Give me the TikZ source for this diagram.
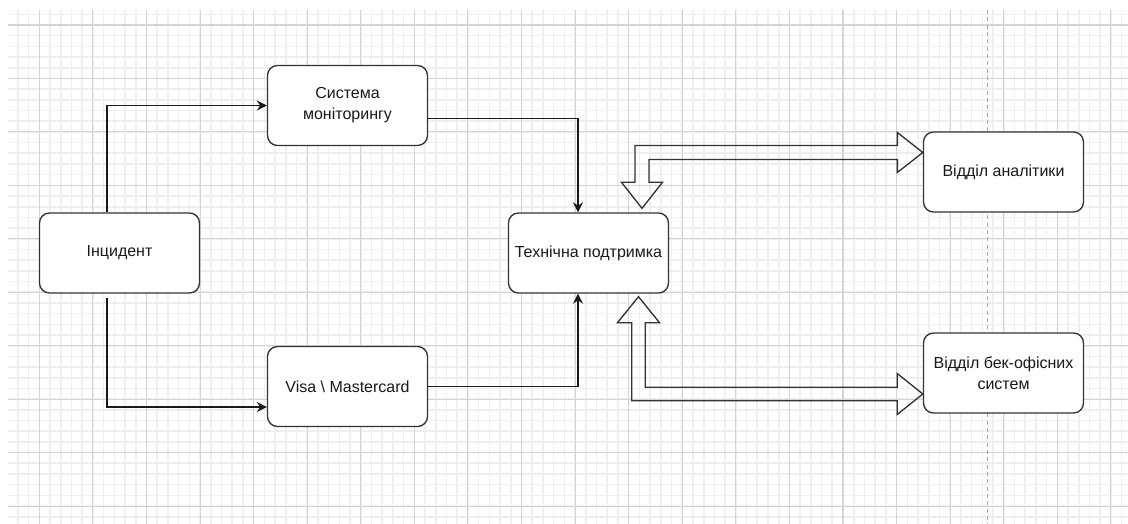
\documentclass[tikz,border=0pt]{standalone}
\usepackage{fontspec}
\setmainfont{Liberation Sans}
\usetikzlibrary{arrows.meta,calc}
\definecolor{gridmajor}{HTML}{D4D4D4}
\definecolor{gridminor}{HTML}{EFEFEF}
\definecolor{edgegray}{HTML}{333333}
\definecolor{textdark}{HTML}{1A1A1A}
\tikzset{
  box/.style={draw=edgegray, line width=1pt, rounded corners=7.5pt, fill=white,
    minimum width=120pt, minimum height=60pt, inner sep=0pt, align=center,
    text=textdark, font=\fontsize{12}{15.75}\selectfont},
  conn/.style={draw=black!90, line width=1pt,
    -{Stealth[length=7.5pt,width=7.5pt,inset=2.5pt]}},
  fat/.style={draw=edgegray, line width=1pt, line join=miter},
  minorline/.style={draw=gridminor, line width=1.2pt},
  majorline/.style={draw=gridmajor, line width=0.8pt},
}
\begin{document}
\begin{tikzpicture}[x=0.75pt,y=-0.75pt]
  \useasboundingbox (0,0) rectangle (1128,524);
  \fill[white] (0,0) rectangle (1128,524);

  % background grid
  \begin{scope}
    \clip (8,10) rectangle (1128,524);
    \foreach \i in {-3,...,102} \draw[minorline] ({39.3+\i*10.716},10) -- ++(0,520);
    \foreach \j in {-2,...,48} \draw[minorline] (8,{25+\j*10.69}) -- ++(1130,0);
    \foreach \i in {-1,...,20} \draw[majorline] ({39.3+\i*53.58},10) -- ++(0,520);
    \foreach \j in {-1,...,10} \draw[majorline] (8,{25+\j*53.45}) -- ++(1130,0);
    % page break
    \draw[gray!70, line width=0.7pt, dash pattern=on 3pt off 2.5pt] (987,10) -- (987,524);
  \end{scope}

  % boxes
  \node[box] (mon)  at (347.5,105.5) {Система\\моніторингу};
  \node[box] (inc)  at (119.5,253)   {Інцидент};
  \node[box] (visa) at (347.5,386.5) {Visa \textbackslash{} Mastercard};
  \node[box] (tech) at (588.5,253)   {Технічна подтримка};
  \node[box] (anal) at (1003.5,172)  {Відділ аналітики};
  \node[box] (back) at (1003.5,373)  {Відділ бек-офісних\\систем};

  % plain connectors
  \draw[conn] ($(inc.north)+(-12.5,0)$) |- (mon.west);
  \draw[conn] ($(inc.south)+(-12.5,4)$) |- ($(visa.west)+(0,20.5)$);
  \draw[conn] ($(mon.east)+(0,13)$) -| ($(tech.north)+(-10.5,0)$);
  \draw[conn] (visa.east) -| ($(tech.south)+(-10.5,0)$);

  % wide two-headed arrow towards analytics
  \coordinate (a1) at ($(tech.north)+(53.5,-4)$);
  \coordinate (a2) at ($(anal.west)+(0,-19.5)$);
  \coordinate (ac) at (a1 |- a2);
  \draw[fat] (a1) -- ($(a1)+(-20.5,-26)$) -- ($(a1)+(-7,-26)$) -- ($(ac)+(-7,-7)$)
    -- ($(a2)+(-25.5,-7)$) -- ($(a2)+(-25.5,-20)$) -- (a2) -- ($(a2)+(-25.5,20)$)
    -- ($(a2)+(-25.5,7)$) -- ($(ac)+(7,7)$) -- ($(a1)+(7,-26)$) -- ($(a1)+(20.5,-26)$) -- cycle;

  % wide two-headed arrow towards back-office
  \coordinate (b1) at ($(tech.south)+(50,3)$);
  \coordinate (b2) at ($(back.west)+(0,21)$);
  \coordinate (bc) at (b1 |- b2);
  \draw[fat] (b1) -- ($(b1)+(21,26)$) -- ($(b1)+(6.7,26)$) -- ($(bc)+(6.7,-6.7)$)
    -- ($(b2)+(-25.6,-6.7)$) -- ($(b2)+(-25.6,-20.5)$) -- (b2) -- ($(b2)+(-25.6,20.5)$)
    -- ($(b2)+(-25.6,6.7)$) -- ($(bc)+(-6.7,6.7)$) -- ($(b1)+(-6.7,26)$) -- ($(b1)+(-21,26)$) -- cycle;
\end{tikzpicture}
\end{document}
